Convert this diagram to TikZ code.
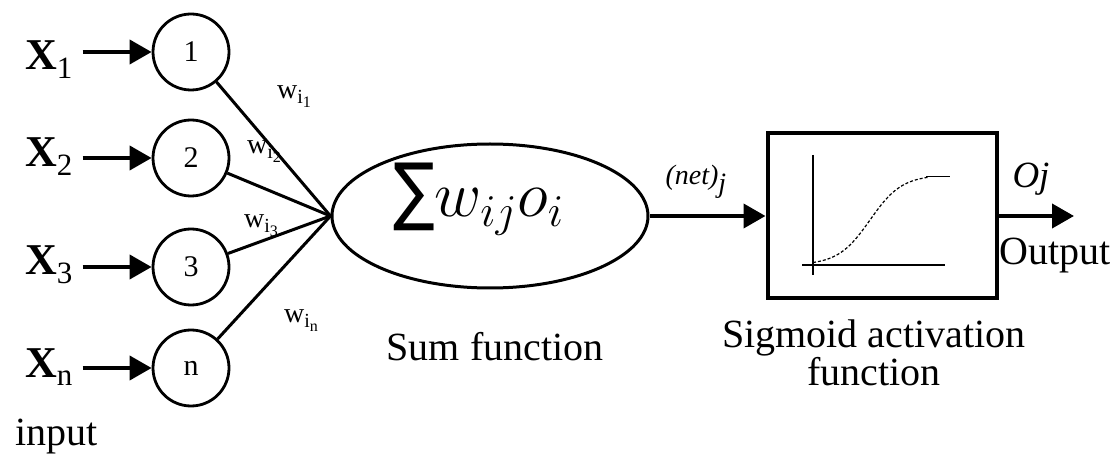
\documentclass[tikz,border=0pt]{standalone}
\usepackage{fix-cm}
\usepackage{amsmath}
\usepackage{fontspec}
\setmainfont{Liberation Serif}
\newfontfamily\sumfont{DejaVu Sans}
\usetikzlibrary{arrows.meta,shapes.geometric}

\newcommand{\xin}[1]{{\fontsize{44}{46}\selectfont\bfseries X}\raisebox{-9pt}{\fontsize{31}{31}\selectfont #1}}
\newcommand{\wlab}[1]{w\raisebox{-5pt}{\fontsize{20}{20}\selectfont i\raisebox{-4pt}{\fontsize{16}{16}\selectfont #1}}}

\begin{document}
\begin{tikzpicture}[
  x=1pt,y=-1pt,
  every node/.style={font=\fontsize{40}{32}\selectfont,inner sep=0pt},
  neuron/.style={draw,circle,line width=2.8pt,minimum size=76pt,font=\fontsize{30}{30}\selectfont},
  sumnode/.style={draw,ellipse,line width=3pt,minimum width=316pt,minimum height=144pt},
  actbox/.style={draw,rectangle,line width=4pt,minimum width=229pt,minimum height=165pt},
  arr/.style={-{Triangle[length=22pt,width=24pt]},line width=4pt},
  link/.style={line width=3pt},
  wlabel/.style={font=\fontsize{28}{28}\selectfont},
  axis/.style={line width=1.2pt}
]
\useasboundingbox (0,0) rectangle (1119,462);
% inputs
\node[anchor=base west] (x1) at (25,70) {\xin{1}};
\node[anchor=base west] (x2) at (25,167) {\xin{2}};
\node[anchor=base west] (x3) at (25,275) {\xin{3}};
\node[anchor=base west] (xn) at (25,377) {\xin{n}};
\node[anchor=base west] (input) at (15,445) {input};
% neurons
\node[neuron] (c1) at (191,52) {1};
\node[neuron] (c2) at (191,158) {2};
\node[neuron] (c3) at (191,267) {3};
\node[neuron] (cn) at (191,368) {n};
\draw[arr] ([xshift=10pt]x1.east |- c1) -- (c1);
\draw[arr] ([xshift=10pt]x2.east |- c2) -- (c2);
\draw[arr] ([xshift=10pt]x3.east |- c3) -- (c3);
\draw[arr] ([xshift=10pt]xn.east |- cn) -- (cn);
% summation
\node[sumnode] (sum) at (490,216) {};
\node[anchor=base west,font=\fontsize{65}{66}\selectfont] (sumtxt) at (393,217) {\scalebox{1}[1.2]{\sumfont\fontsize{62}{62}\selectfont ∑}$w_{ij}o_i$};
\node[anchor=base] (sumlbl) at (495,360) {Sum function};
\draw[link] (c1) -- (sum.west);
\draw[link] (c2) -- (sum.west);
\draw[link] (c3) -- (sum.west);
\draw[link] (cn) -- (sum.west);
\node[wlabel] (w1) at (294,97) {\wlab{1}};
\node[wlabel] (w2) at (264,152) {\wlab{2}};
\node[wlabel] (w3) at (261,226) {\wlab{3}};
\node[wlabel] (wn) at (301,321) {\wlab{n}};
% activation
\node[actbox] (act) at (882,216) {};
\node[align=center,anchor=base] (actlbl) at (874,385) {Sigmoid activation\\function};
\draw[arr] (sum.east) -- node[pos=0.4,above=16pt,font=\fontsize{28}{30}\selectfont\itshape]{(net)\raisebox{-8pt}{j}} (act.west);
\draw[axis] (813,155) -- (813,275);
\draw[axis] (802,265) -- (945,265);
\draw[line width=1.2pt,densely dashed] plot[domain=813:928,samples=50] (\x,{265-90/(1+exp(-(\x-870)/16))});
\draw[axis] (926,176.5) -- (950,176.5);
% output
\coordinate (out) at (1074,216);
\draw[arr] (act.east) -- (out);
\node[anchor=base,font=\fontsize{37}{38}\selectfont\itshape] (oj) at (1031,188) {Oj};
\node[anchor=base] (output) at (1055,265) {Output};
\end{tikzpicture}
\end{document}
